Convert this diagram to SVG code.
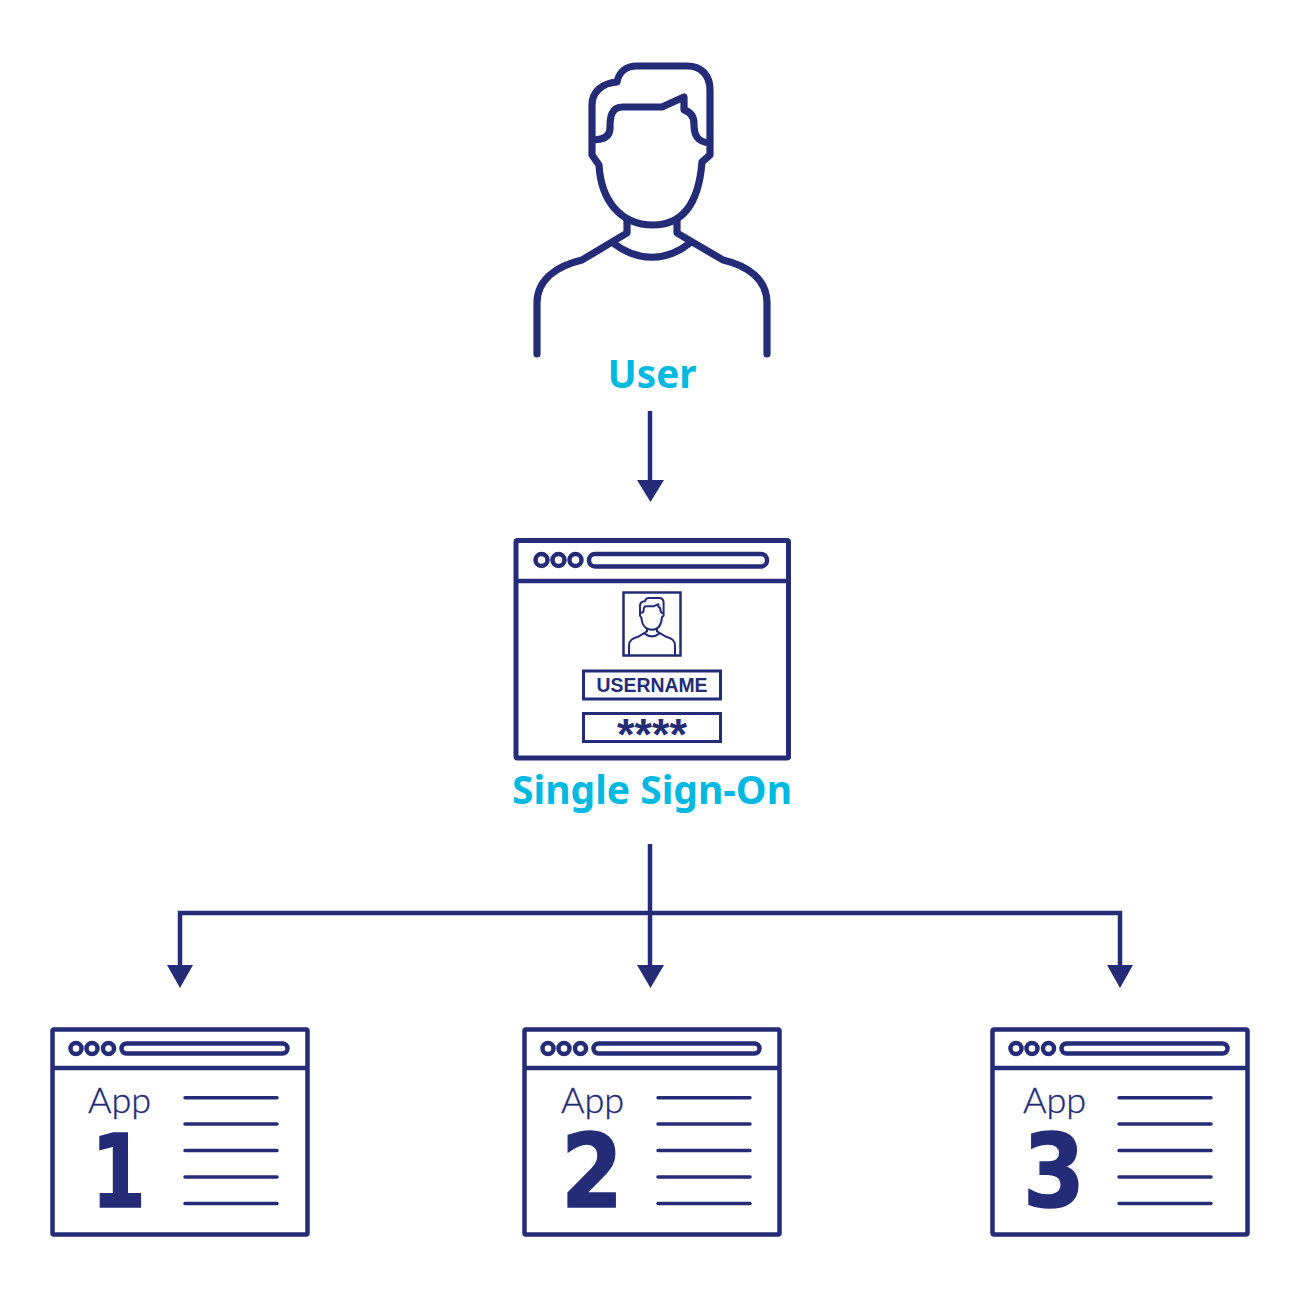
<svg xmlns="http://www.w3.org/2000/svg" xmlns:xlink="http://www.w3.org/1999/xlink" width="1300" height="1300" viewBox="0 0 1300 1300">
<style>
.s{fill:none;stroke:#242c78;stroke-linecap:round;stroke-linejoin:round}
.c{fill:none;stroke:#242c78;stroke-width:4.5;stroke-linejoin:miter}
.ln{fill:none;stroke:#242c78;stroke-width:3.5;stroke-linecap:round}
.lbl{font-family:"Noto Sans","Liberation Sans",sans-serif;font-weight:700;font-size:40px;fill:#00b9e0;text-anchor:middle}
.app{font-family:Lato,"Liberation Sans",sans-serif;font-weight:300;font-size:36px;fill:#242c78;stroke:#242c78;stroke-width:.4}
.num{font-family:"DejaVu Sans",sans-serif;font-weight:700;font-size:101px;fill:#242c78;stroke:#242c78;stroke-width:1.500}
.ar{fill:#242c78}
</style>
<defs>
<g id="person" class="s">
<path d="M592 140V105C592 92 602 83 617 82C619 72 626 66 637 66H687C701 66 710 75 710 90V155L702 162C699 200 685 225 653 225C620 225 601 200 599 165L592 155V140C602 140 610 137 610 128C610 117 611 107 623 107H662L684 97V110C691 112 694 117 694 124C694 135 697 142 710 143"/>
<path d="M627 220V233L582 260C556 266 537 280 537 303V354M677 220V233L723 260C749 266 767 280 767 303V354M613 243C638 262 666 262 690 243"/>
</g>
<g id="win">
<rect class="c" x="52.500" y="1029.500" width="255" height="205" rx="1.500"/>
<path class="c" d="M52 1068H308"/>
<circle class="c" cx="76" cy="1048.500" r="5.500"/><circle class="c" cx="92" cy="1048.500" r="5.500"/><circle class="c" cx="108.500" cy="1048.500" r="5.500"/>
<rect class="c" x="121.500" y="1043.500" width="166" height="10" rx="5"/>
</g>
<path id="rows" class="ln" d="M185 1097.700H277M185 1124H277M185 1150.500H277M185 1177H277M185 1203.500H277"/>
</defs>
<g id="connectors">
<path class="c" d="M650 411V482"/>
<path class="ar" d="M637 480H664L650.500 502Z"/>
<path class="c" d="M650 844V967M180 967V913H1120V967"/>
<path class="ar" d="M167 965H193L180 988ZM637 965H664L650.500 988ZM1107 965H1133L1120 988Z"/>
</g>
<g id="user">
<use href="#person" style="stroke-width:7.200"/>
<text class="lbl" x="652" y="388" textLength="89" lengthAdjust="spacingAndGlyphs">User</text>
</g>
<g id="sso">
<rect class="c" x="516" y="540.500" width="272.500" height="217.500" rx="1.500" style="stroke-width:5"/>
<path class="c" d="M516 581H788"/>
<circle class="c" cx="541.500" cy="560" r="6"/><circle class="c" cx="558.500" cy="560" r="6"/><circle class="c" cx="575.500" cy="560" r="6"/>
<rect class="c" x="589" y="554" width="178" height="12.500" rx="6"/>
<rect class="c" x="623.500" y="592.500" width="57" height="63" style="stroke-width:2.500"/>
<use href="#person" transform="translate(521.600 584.800) scale(.2)" style="stroke-width:10"/>
<rect class="c" x="583.500" y="671" width="137" height="28" style="stroke-width:3"/>
<rect class="c" x="583.500" y="713.500" width="137" height="28" style="stroke-width:3"/>
<text x="652" y="692" text-anchor="middle" font-family="Liberation Sans, sans-serif" font-weight="700" font-size="20" fill="#242c78" textLength="111" lengthAdjust="spacingAndGlyphs">USERNAME</text>
<text x="652" y="750" text-anchor="middle" font-family="Liberation Sans, sans-serif" font-weight="700" font-size="45" fill="#242c78">****</text>
<text class="lbl" x="652" y="804" textLength="280" lengthAdjust="spacingAndGlyphs">Single Sign-On</text>
</g>
<g id="app1">
<use href="#win"/>
<use href="#rows"/>
<text class="app" x="88" y="1113">App</text>
<text class="num" x="91" y="1207" textLength="55" lengthAdjust="spacingAndGlyphs">1</text>
</g>
<g id="app2">
<use href="#win" x="472"/>
<use href="#rows" x="473"/>
<text class="app" x="561" y="1113">App</text>
<text class="num" x="561" y="1207" textLength="62" lengthAdjust="spacingAndGlyphs">2</text>
</g>
<g id="app3">
<use href="#win" x="940"/>
<use href="#rows" x="934"/>
<text class="app" x="1023" y="1113">App</text>
<text class="num" x="1023" y="1207" textLength="62" lengthAdjust="spacingAndGlyphs">3</text>
</g>
</svg>
